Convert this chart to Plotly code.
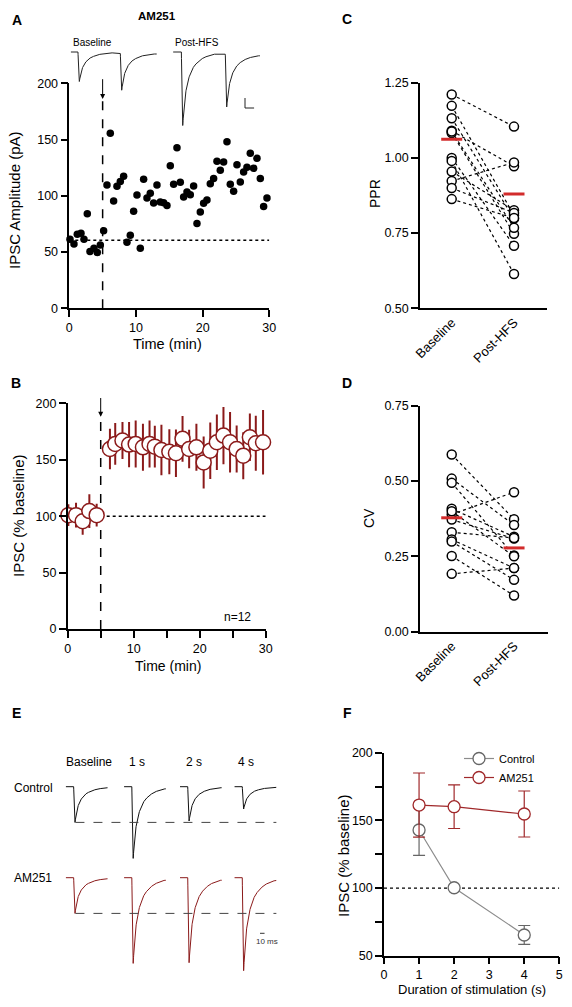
import numpy as np
import plotly.graph_objects as go

W, H = 572, 1007
FONT = "Arial, Liberation Sans, sans-serif"
RED_DARK = "#8B1A1A"
RED_MEAN = "#D22B2B"
RED_F = "#A0282A"
GRAY = "#8C8C8C"

# ---------------- Panel A: single-cell IPSC amplitudes ----------------
a_time = [0.1, 0.7, 1.2, 1.75, 2.2, 2.7, 3.1, 3.7, 4.2, 4.65,
          5.15, 5.65, 6.15, 6.65, 7.15, 7.65, 8.15, 8.65, 9.15, 9.65,
          10.15, 10.65, 11.15, 11.65, 12.15, 12.65, 13.15, 13.65, 14.15, 14.65,
          15.15, 15.65, 16.15, 16.65, 17.15, 17.65, 18.15, 18.65, 19.15, 19.65,
          20.15, 20.65, 21.15, 21.65, 22.15, 22.65, 23.15, 23.65, 24.15, 24.65,
          25.15, 25.65, 26.15, 26.65, 27.15, 27.65, 28.15, 28.65, 29.15, 29.65]
a_amp = [61.3, 57.2, 65.8, 66.7, 61.3, 84.1, 50.4, 53.3, 49.5, 56.3,
         69.0, 109.6, 155.6, 95.4, 108.4, 112.6, 117.3, 58.7, 64.9, 86.2,
         100.7, 53.3, 114.7, 98.1, 102.2, 93.6, 109.6, 94.5, 93.9, 91.3,
         126.8, 110.2, 142.8, 112.0, 99.0, 103.4, 101.0, 108.7, 75.3, 85.6,
         93.3, 96.3, 110.8, 115.3, 130.7, 122.7, 130.1, 148.1, 110.2, 104.0,
         127.7, 112.3, 121.2, 125.3, 137.8, 124.4, 133.3, 115.3, 90.4, 98.1]
a_n_baseline = 10
hfs_time = 5

# example traces above panel A (ms, pA)
tmpl_t = [0, 1, 2, 3, 5, 7, 9, 12, 16, 21, 28, 37, 48, 60, 72]
tmpl_v = [0, 0.35, 0.8, 1.0, 0.82, 0.68, 0.57, 0.46, 0.36, 0.27, 0.19, 0.13, 0.08, 0.05, 0.03]
a_tr_labels = ["Baseline", "Post-HFS"]
a_tr_start = [24, 249]
a_tr_end = [213, 440]
a_tr_onsets = [[39.5, 132.7], [267, 363.7]]
a_tr_amps = [[59, 75], [147, 106]]
a_scale_origin = [407, -112]
a_scale_ms = 20
a_scale_pA = 20

# ---------------- Panel B: group time course ----------------
b_time = [0.1, 1.26, 2.27, 3.28, 4.39,
          6.4, 7.2, 8.3, 9.3, 10.3, 11.4, 12.4, 13.2, 14.2, 15.4, 16.4, 17.4,
          18.4, 19.5, 20.6, 21.6, 22.6, 23.6, 24.6, 25.6, 26.6, 27.6, 28.5, 29.6]
b_ipsc = [100.9, 100.9, 95.5, 104.5, 100.9,
          159.5, 164.0, 167.0, 163.4, 164.0, 161.0, 164.0, 161.6, 158.6, 157.1, 155.7, 168.5,
          159.5, 161.0, 147.6, 158.0, 165.5, 171.4, 165.5, 159.5, 153.6, 169.9, 164.6, 165.5]
b_err = [9.7, 11, 12, 15, 10,
         17.9, 18.5, 16.4, 20, 20.8, 20.8, 20.8, 18.5, 22.3, 20, 21, 20.2,
         17, 20.8, 23, 25, 24.5, 25.3, 26.8, 20.8, 20.8, 21, 24.4, 28.6]

# ---------------- Panels C, D ----------------
cond = ["Baseline", "Post-HFS"]
ppr_base = [1.211, 1.173, 1.132, 1.09, 1.083, 1.00, 0.99, 0.955, 0.923, 0.90, 0.863, 1.088]
ppr_post = [1.104, 0.809, 0.798, 0.972, 0.748, 0.708, 0.614, 0.826, 0.985, 0.817, 0.80, 0.768]
ppr_mean = [1.062, 0.880]
cv_base = [0.588, 0.508, 0.494, 0.408, 0.389, 0.372, 0.33, 0.306, 0.299, 0.251, 0.192, 0.40]
cv_post = [0.373, 0.354, 0.253, 0.315, 0.463, 0.309, 0.311, 0.211, 0.172, 0.12, 0.211, 0.25]
cv_mean = [0.378, 0.278]

# ---------------- Panel E: example traces ----------------
e_cols = ["Baseline", "1 s", "2 s", "4 s"]
e_starts = [13, 141, 264, 384]
e_pre = 17
e_dur = 92
e_ctrl_amp = [357, 717, 343, 223]
e_am_amp = [357, 857, 850, 930]
e_row_base = [0, -910]
e_scale = [440, 450, -1466]

# ---------------- Panel F ----------------
f_dur = [1, 2, 4]
f_ctrl = [142.9, 100.2, 65.3]
f_ctrl_err = [18.8, 0, 7]
f_am = [161.3, 160.1, 154.7]
f_am_err = [23.7, 16.1, 17]


def xd(a, b):
    return [a / W, b / W]


def yd(top, bottom):
    return [1 - bottom / H, 1 - top / H]


def PX(x):
    return x / W


def PY(y):
    return 1 - y / H


def sweep(start, onsets, amps, end, base):
    t = np.arange(start, end, 0.25)
    y = np.full(t.shape, float(base))
    for on, a in zip(onsets, amps):
        y -= a * np.interp(t - on, tmpl_t, tmpl_v, left=0.0, right=tmpl_v[-1])
    return t, y


fig = go.Figure()

# ---- A ----
base_mean = float(np.mean(a_amp[:a_n_baseline]))
fig.add_trace(go.Scatter(x=[0, 30], y=[base_mean, base_mean], mode="lines",
                         line=dict(color="black", width=1.5, dash="dot"),
                         xaxis="x", yaxis="y", showlegend=False))
fig.add_trace(go.Scatter(x=[hfs_time, hfs_time], y=[0, 185], mode="lines",
                         line=dict(color="black", width=1.5, dash="dash"),
                         xaxis="x", yaxis="y", showlegend=False))
fig.add_trace(go.Scatter(x=a_time, y=a_amp, mode="markers",
                         marker=dict(color="black", size=7.5),
                         xaxis="x", yaxis="y", showlegend=False, cliponaxis=False))
for s, e, ons, amps in zip(a_tr_start, a_tr_end, a_tr_onsets, a_tr_amps):
    t, y = sweep(s, ons, amps, e, 0)
    fig.add_trace(go.Scatter(x=t, y=y, mode="lines", line=dict(color="#222", width=1),
                             xaxis="x2", yaxis="y2", showlegend=False))
ox, oy = a_scale_origin
fig.add_trace(go.Scatter(x=[ox, ox, ox + a_scale_ms], y=[oy + a_scale_pA, oy, oy], mode="lines",
                         line=dict(color="#222", width=1), xaxis="x2", yaxis="y2", showlegend=False))

# ---- B ----
fig.add_trace(go.Scatter(x=[hfs_time, 31], y=[100, 100], mode="lines",
                         line=dict(color="black", width=1.5, dash="dot"),
                         xaxis="x3", yaxis="y3", showlegend=False, cliponaxis=False))
fig.add_trace(go.Scatter(x=[hfs_time, hfs_time], y=[0, 188], mode="lines",
                         line=dict(color="black", width=1.5, dash="dash"),
                         xaxis="x3", yaxis="y3", showlegend=False))
fig.add_trace(go.Scatter(x=b_time, y=b_ipsc, mode="markers",
                         error_y=dict(type="data", array=b_err, color=RED_DARK, thickness=2, width=0),
                         marker=dict(color="white", size=15, line=dict(color=RED_DARK, width=1.5)),
                         xaxis="x3", yaxis="y3", showlegend=False, cliponaxis=False))

# ---- C & D ----
for (xa, ya, base, post, mean) in [("x4", "y4", ppr_base, ppr_post, ppr_mean),
                                   ("x5", "y5", cv_base, cv_post, cv_mean)]:
    for b, p in zip(base, post):
        fig.add_trace(go.Scatter(x=cond, y=[b, p], mode="lines",
                                 line=dict(color="black", width=1.2, dash="dot"),
                                 xaxis=xa, yaxis=ya, showlegend=False))
    fig.add_trace(go.Scatter(x=[cond[0]] * len(base) + [cond[1]] * len(post), y=base + post,
                             mode="markers",
                             marker=dict(color="white", size=9, line=dict(color="black", width=1.5)),
                             xaxis=xa, yaxis=ya, showlegend=False, cliponaxis=False))
    fig.add_trace(go.Scatter(x=cond, y=mean, mode="markers",
                             marker=dict(symbol="line-ew", size=15, line=dict(color=RED_MEAN, width=3)),
                             xaxis=xa, yaxis=ya, showlegend=False, cliponaxis=False))

# ---- E ----
for row, (amps, color) in enumerate([(e_ctrl_amp, "#111111"), (e_am_amp, RED_DARK)]):
    base = e_row_base[row]
    for s, a in zip(e_starts, amps):
        t, y = sweep(s, [s + e_pre], [a], s + e_dur, base)
        fig.add_trace(go.Scatter(x=t, y=y, mode="lines", line=dict(color=color, width=1),
                                 xaxis="x6", yaxis="y6", showlegend=False, cliponaxis=False))
    lvl = base - amps[0]
    fig.add_trace(go.Scatter(x=[e_starts[0] + e_pre + 4, e_starts[-1] + e_dur], y=[lvl, lvl],
                             mode="lines", line=dict(color="#444", width=1, dash="dash"),
                             xaxis="x6", yaxis="y6", showlegend=False))
fig.add_trace(go.Scatter(x=e_scale[:2], y=[e_scale[2], e_scale[2]], mode="lines",
                         line=dict(color="#333", width=1), xaxis="x6", yaxis="y6", showlegend=False))

# ---- F ----
fig.add_trace(go.Scatter(x=[0, 5], y=[100, 100], mode="lines",
                         line=dict(color="black", width=1.2, dash="dot"),
                         xaxis="x7", yaxis="y7", showlegend=False))
fig.add_trace(go.Scatter(x=f_dur, y=f_ctrl, name="Control", mode="lines+markers",
                         error_y=dict(type="data", array=f_ctrl_err, color="#666", thickness=1.2, width=6),
                         line=dict(color=GRAY, width=1.2),
                         marker=dict(color="white", size=12, line=dict(color="#666", width=1.3)),
                         xaxis="x7", yaxis="y7", cliponaxis=False))
fig.add_trace(go.Scatter(x=f_dur, y=f_am, name="AM251", mode="lines+markers",
                         error_y=dict(type="data", array=f_am_err, color=RED_F, thickness=1.2, width=6),
                         line=dict(color=RED_F, width=1.2),
                         marker=dict(color="white", size=12, line=dict(color=RED_F, width=1.3)),
                         xaxis="x7", yaxis="y7", cliponaxis=False))

TICKF = dict(size=12.5, color="black", family=FONT)
ax = dict(showgrid=False, zeroline=False, showline=True, linecolor="black", linewidth=1.5,
          ticks="outside", ticklen=7, tickwidth=1.5, tickcolor="black", tickfont=TICKF,
          automargin=False)
hidden = dict(visible=False, showgrid=False, zeroline=False, automargin=False)
catx = {**ax, "ticks": "", "tickangle": -45, "tickfont": dict(size=13, family=FONT, color="black")}

fig.update_layout(
    width=W, height=H, margin=dict(l=0, r=0, t=0, b=0, pad=0, autoexpand=False), autosize=False,
    paper_bgcolor="white", plot_bgcolor="rgba(0,0,0,0)",
    font=dict(family=FONT, color="black"),
    xaxis=dict(domain=xd(69.3, 269.3), range=[0, 30], tickvals=[0, 10, 20, 30], anchor="y", **ax),
    yaxis=dict(domain=yd(83.3, 308.3), range=[0, 200], tickvals=[0, 50, 100, 150, 200], anchor="x", **ax),
    xaxis2=dict(domain=xd(60, 270), range=[0, 462], anchor="y2", **hidden),
    yaxis2=dict(domain=yd(35, 140), range=[-176, 34], anchor="x2", **hidden),
    xaxis3=dict(domain=xd(67.7, 265.7), range=[0, 30], tickvals=[0, 5, 10, 15, 20, 25, 30],
                ticktext=["0", "", "10", "", "20", "", "30"], anchor="y3", **ax),
    yaxis3=dict(domain=yd(403.3, 629), range=[0, 200], tickvals=[0, 50, 100, 150, 200], anchor="x3", **ax),
    xaxis4=dict(domain=xd(420, 546.7), type="category", categoryarray=cond, range=[-0.509, 1.525],
                anchor="y4", **catx),
    yaxis4=dict(domain=yd(82.7, 308.3), range=[0.5, 1.25], tickvals=[0.5, 0.75, 1.0, 1.25],
                tickformat=".2f", anchor="x4", **ax),
    xaxis5=dict(domain=xd(420, 548), type="category", categoryarray=cond, range=[-0.509, 1.545],
                anchor="y5", **catx),
    yaxis5=dict(domain=yd(405.7, 631.7), range=[0, 0.75], tickvals=[0, 0.25, 0.5, 0.75],
                tickformat=".2f", anchor="x5", **ax),
    xaxis6=dict(domain=xd(60, 290), range=[0, 506], anchor="y6", **hidden),
    yaxis6=dict(domain=yd(750, 980), range=[-1933, 367], anchor="x6", **hidden),
    xaxis7=dict(domain=xd(384, 559.3), range=[0, 5], tickvals=[0, 1, 2, 3, 4, 5], anchor="y7", **ax),
    yaxis7=dict(domain=yd(752.7, 955.7), range=[50, 200], tickvals=[50, 75, 100, 125, 150, 175, 200],
                ticktext=["50", "", "100", "", "150", "", "200"], anchor="x7", **ax),
    legend=dict(x=PX(459), y=PY(744), xanchor="left", yanchor="top", font=dict(size=11, family=FONT),
                bgcolor="rgba(0,0,0,0)", itemwidth=30, tracegroupgap=0),
)

ann = []


def text(x, y, s, size=11, bold=False, angle=0, xanchor="center", color="black"):
    ann.append(dict(x=PX(x), y=PY(y), xref="paper", yref="paper", text=f"<b>{s}</b>" if bold else s,
                    showarrow=False, textangle=angle, xanchor=xanchor, yanchor="middle",
                    font=dict(size=size, family=FONT, color=color)))


# panel letters
for L, (x, y) in {"A": (17, 20), "B": (16, 383), "C": (347, 19), "D": (347, 383), "E": (16, 713), "F": (347, 713)}.items():
    text(x, y, L, size=14, bold=True)
text(157, 16, "AM251", size=11.5, bold=True)
text(71, 42, a_tr_labels[0], size=10, xanchor="left")
text(173, 42, a_tr_labels[1], size=10, xanchor="left")
# axis titles
text(15, 200, "IPSC Amplitude (pA)", size=15, angle=-90)
text(167, 344, "Time (min)", size=14.5)
text(18, 516, "IPSC (% baseline)", size=15, angle=-90)
text(168, 666, "Time (min)", size=14)
text(237, 617, "n=12", size=12)
text(375, 194, "PPR", size=14, angle=-90)
text(369, 518, "CV", size=14, angle=-90)
text(343, 856, "IPSC (% baseline)", size=15, angle=-90)
text(472, 989, "Duration of stimulation (s)", size=13)
# panel E labels
for lab, x in zip(e_cols, [89, 137, 194, 246]):
    text(x, 762, lab, size=12)
text(33, 788, "Control", size=12)
text(33, 878, "AM251", size=12)
ann.append(dict(x=455, y=-1550, xref="x6", yref="y6", text="10 ms", showarrow=False,
                font=dict(size=8, family=FONT, color="#333")))
# arrows marking HFS
ann.append(dict(x=hfs_time, y=186, ax=hfs_time, ay=205, xref="x", yref="y", axref="x", ayref="y",
                text="", showarrow=True, arrowhead=2, arrowsize=1, arrowwidth=1, arrowcolor="black"))
ann.append(dict(x=hfs_time, y=188, ax=hfs_time, ay=206, xref="x3", yref="y3", axref="x3", ayref="y3",
                text="", showarrow=True, arrowhead=2, arrowsize=1, arrowwidth=1, arrowcolor="black"))
fig.update_layout(annotations=ann)

fig.write_html("out.html", config={"displayModeBar": False},
               post_script="document.body.style.margin='0';document.body.style.padding='0';"
                           "document.body.style.overflow='hidden';")
